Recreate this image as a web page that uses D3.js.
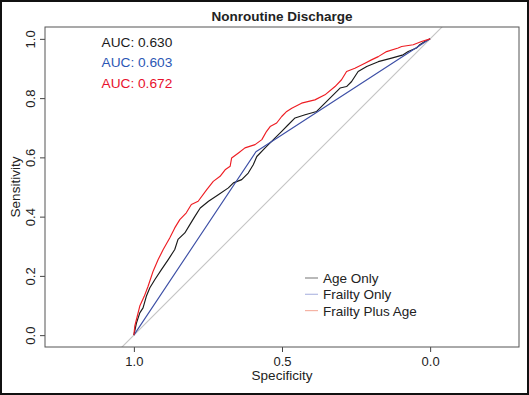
<!DOCTYPE html>
<html>
<head>
<meta charset="utf-8">
<script src="https://cdn.jsdelivr.net/npm/d3@7"></script>
<style>
  html, body { margin: 0; padding: 0; background: #fff; }
  svg { display: block; font-family: "Liberation Sans", Arial, Helvetica, sans-serif; }
</style>
</head>
<body>
<div class="chart"></div>
<script>
// ROC curves (specificity, sensitivity)
const ageSpec = [1.000, 0.991, 0.980, 0.969, 0.958, 0.946, 0.929, 0.907, 0.884, 0.862, 0.851, 0.828, 0.811, 0.794, 0.776, 0.748, 0.715, 0.681, 0.664, 0.636, 0.614, 0.597, 0.585, 0.557, 0.535, 0.501, 0.479, 0.456, 0.422, 0.383, 0.344, 0.304, 0.282, 0.265, 0.243, 0.214, 0.175, 0.130, 0.091, 0.074, 0.046, 0.035, 0.018, 0.000];
const ageSens = [0.000, 0.042, 0.075, 0.092, 0.131, 0.160, 0.188, 0.221, 0.255, 0.289, 0.323, 0.345, 0.373, 0.401, 0.429, 0.452, 0.474, 0.497, 0.514, 0.525, 0.547, 0.575, 0.603, 0.632, 0.654, 0.688, 0.710, 0.733, 0.744, 0.755, 0.794, 0.834, 0.839, 0.856, 0.890, 0.907, 0.923, 0.935, 0.946, 0.957, 0.969, 0.980, 0.991, 1.000];

const frailtySpec = [1.000, 0.588, 0.000];
const frailtySens = [0.000, 0.619, 1.000];

const comboSpec = [1.000, 0.997, 0.980, 0.965, 0.952, 0.935, 0.918, 0.901, 0.879, 0.862, 0.845, 0.823, 0.806, 0.783, 0.754, 0.732, 0.709, 0.692, 0.675, 0.670, 0.647, 0.625, 0.591, 0.568, 0.552, 0.540, 0.518, 0.501, 0.484, 0.467, 0.434, 0.389, 0.355, 0.321, 0.299, 0.282, 0.254, 0.220, 0.198, 0.175, 0.147, 0.108, 0.096, 0.057, 0.029, 0.000];
const comboSens = [0.000, 0.030, 0.098, 0.131, 0.165, 0.216, 0.255, 0.289, 0.328, 0.362, 0.390, 0.413, 0.441, 0.452, 0.491, 0.519, 0.536, 0.558, 0.570, 0.598, 0.615, 0.632, 0.643, 0.660, 0.688, 0.704, 0.716, 0.738, 0.755, 0.766, 0.783, 0.794, 0.811, 0.839, 0.862, 0.890, 0.901, 0.918, 0.929, 0.940, 0.957, 0.969, 0.974, 0.980, 0.991, 1.000];

const seriesNames = ["Age Only", "Frailty Only", "Frailty Plus Age"];
const aucValues = [0.630, 0.603, 0.672];
const xTicks = [1.0, 0.5, 0.0];
const yTicks = [0.0, 0.2, 0.4, 0.6, 0.8, 1.0];

const W = 529, H = 395;
const Margin = {top: 27, right: 10, bottom: 48, left: 45},
    Width = W - Margin.left - Margin.right,
    Height = H - Margin.top - Margin.bottom;

const lineColors = ["#1a1a1a", "#3d4fa6", "#ee1d23"];
const textColors = ["#1a1a1a", "#2c57b5", "#e8112d"];
const legendColors = ["#8a8a8a", "#b3bae3", "#f5b3a4"];

const svg = d3.select(".chart").append("svg")
    .attr("width", W)
    .attr("height", H);

svg.append("rect").attr("width", W).attr("height", H).attr("fill", "#fff");
// outer frame of the figure
svg.append("rect")
    .attr("x", 1).attr("y", 1).attr("width", W - 2).attr("height", H - 2)
    .attr("fill", "none").attr("stroke", "#111").attr("stroke-width", 2);

const g = svg.append("g").attr("transform", "translate(" + Margin.left + "," + Margin.top + ")");

const x = d3.scaleLinear().domain([1.3, -0.3]).range([0, Width]);
const y = d3.scaleLinear().domain([-0.04, 1.04]).range([Height, 0]);

g.append("clipPath").attr("id", "plotclip")
    .append("rect").attr("width", Width).attr("height", Height);

// reference diagonal (sens = 1 - spec), extended across the panel
g.append("line")
    .attr("clip-path", "url(#plotclip)")
    .attr("x1", x(1.5)).attr("y1", y(-0.5))
    .attr("x2", x(-0.5)).attr("y2", y(1.5))
    .attr("stroke", "#c4c4c4").attr("stroke-width", 1.1);

const curves = [
    d3.zip(ageSpec, ageSens),
    d3.zip(frailtySpec, frailtySens),
    d3.zip(comboSpec, comboSens)
];

const line = d3.line().x(d => x(d[0])).y(d => y(d[1]));

curves.forEach((pts, i) => {
    g.append("path")
        .datum(pts)
        .attr("d", line)
        .attr("fill", "none")
        .attr("stroke", lineColors[i])
        .attr("stroke-width", 1.15)
        .attr("stroke-linejoin", "round");
});

// X axis
const xAxis = g.append("g")
    .attr("transform", "translate(0," + Height + ")")
    .call(d3.axisBottom(x).tickValues(xTicks).tickFormat(d3.format(".1f")).tickSize(5).tickSizeOuter(0));
xAxis.select(".domain").remove();
xAxis.selectAll("line").attr("stroke", "#444");
xAxis.selectAll("text")
    .attr("y", 9.5).attr("dy", "0.71em")
    .attr("fill", "#222").style("font-size", "13px");

// Y axis
const yAxis = g.append("g")
    .call(d3.axisLeft(y).tickValues(yTicks).tickFormat(d3.format(".1f")).tickSize(5).tickSizeOuter(0));
yAxis.select(".domain").remove();
yAxis.selectAll("line").attr("stroke", "#444");
yAxis.selectAll("text")
    .attr("x", null).attr("dy", null)
    .attr("text-anchor", "middle")
    .attr("transform", "translate(-10,0) rotate(-90)")
    .attr("fill", "#222").style("font-size", "13px");

// panel box
g.append("rect")
    .attr("width", Width).attr("height", Height)
    .attr("fill", "none").attr("stroke", "#555").attr("stroke-width", 1);

// Titles
svg.append("text")
    .attr("x", Margin.left + Width / 2).attr("y", 20.5)
    .attr("text-anchor", "middle")
    .style("font-size", "13.5px").style("font-weight", "bold")
    .attr("fill", "#222")
    .text("Nonroutine Discharge");

svg.append("text")
    .attr("x", Margin.left + Width / 2).attr("y", Margin.top + Height + 33)
    .attr("text-anchor", "middle")
    .style("font-size", "13.5px").attr("fill", "#222")
    .text("Specificity");

svg.append("text")
    .attr("transform", "translate(20," + (Margin.top + Height / 2) + ") rotate(-90)")
    .attr("text-anchor", "middle")
    .style("font-size", "13.5px").attr("fill", "#222")
    .text("Sensitivity");

// AUC labels
aucValues.forEach((v, i) => {
    g.append("text")
        .attr("x", 56.5).attr("y", 19.5 + i * 20.7)
        .style("font-size", "13.7px")
        .attr("fill", textColors[i])
        .text("AUC: " + d3.format(".3f")(v));
});

// Legend
const legend = svg.append("g").attr("transform", "translate(305,278)");
seriesNames.forEach((name, i) => {
    const row = legend.append("g").attr("transform", "translate(0," + (i * 16.3) + ")");
    row.append("line")
        .attr("x1", 0).attr("x2", 13).attr("y1", 0).attr("y2", 0)
        .attr("stroke", legendColors[i]).attr("stroke-width", 1.2);
    row.append("text")
        .attr("x", 18).attr("y", 5)
        .style("font-size", "13.5px").attr("fill", "#222")
        .text(name);
});
</script>
</body>
</html>
